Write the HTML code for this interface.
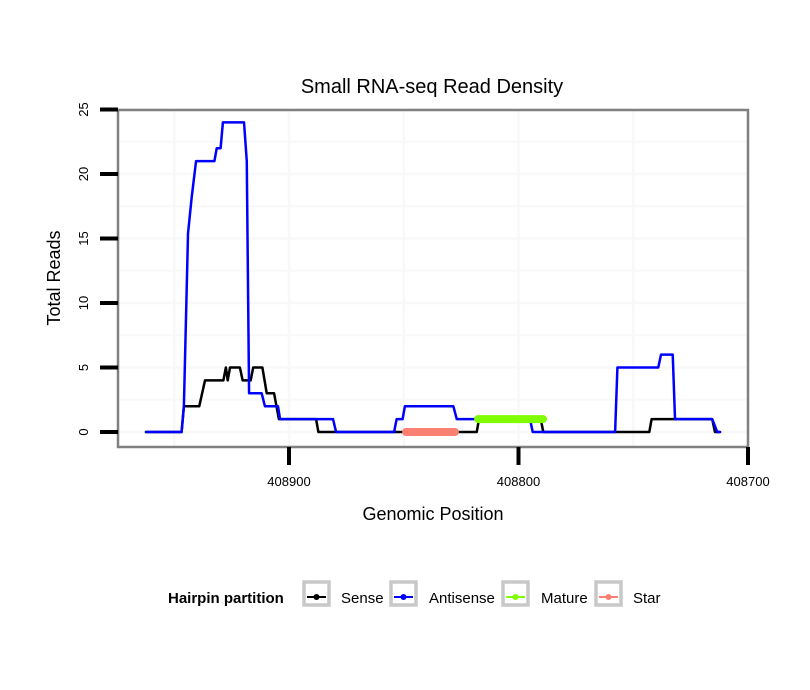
<!DOCTYPE html>
<html><head><meta charset="utf-8"><style>
body{margin:0;background:#fff;}
svg{display:block;font-family:"Liberation Sans",sans-serif;}
</style></head><body>
<svg id="chart" width="810" height="690" viewBox="0 0 810 690">
<rect width="810" height="690" fill="#fff"/>
<text x="432" y="93" font-size="20" text-anchor="middle">Small RNA-seq Read Density</text>
<g id="grid"></g>
<rect x="118" y="110" width="630" height="337" fill="none" stroke="#808080" stroke-width="2.5"/>
<g id="marks"></g>
<g id="axes"></g>
<text x="433" y="520" font-size="18" text-anchor="middle">Genomic Position</text>
<text transform="translate(60,278) rotate(-90)" font-size="18" text-anchor="middle">Total Reads</text>
<g font-size="15">
<text x="168" y="603" font-weight="bold">Hairpin partition</text>
<g><rect x="304" y="582" width="25" height="23" fill="#fff" stroke="#c8c8c8" stroke-width="3.5"/><line x1="307" y1="597" x2="326" y2="597" stroke="#000" stroke-width="2"/><circle cx="316.5" cy="597" r="3" fill="#000"/><text x="341" y="603">Sense</text></g>
<g><rect x="391" y="582" width="25" height="23" fill="#fff" stroke="#c8c8c8" stroke-width="3.5"/><line x1="394" y1="597" x2="413" y2="597" stroke="#0000ff" stroke-width="2"/><circle cx="403.5" cy="597" r="3" fill="#0000ff"/><text x="429" y="603">Antisense</text></g>
<g><rect x="503" y="582" width="25" height="23" fill="#fff" stroke="#c8c8c8" stroke-width="3.5"/><line x1="506" y1="597" x2="525" y2="597" stroke="#7fff00" stroke-width="2"/><circle cx="515.5" cy="597" r="3" fill="#7fff00"/><text x="541" y="603">Mature</text></g>
<g><rect x="596" y="582" width="25" height="23" fill="#fff" stroke="#c8c8c8" stroke-width="3.5"/><line x1="599" y1="597" x2="618" y2="597" stroke="#fa8072" stroke-width="2"/><circle cx="608.5" cy="597" r="3" fill="#fa8072"/><text x="633" y="603">Star</text></g>
</g>
</svg>
<script>
const xTicks=[408900,408800,408700];
const yTicks=[0,5,10,15,20,25];
const antisensePos=[408962.3,408946.8,408945.8,408944.0,408942.4,408940.5,408932.5,408931.5,408929.8,408928.8,408919.6,408918.4,408917.4,408911.9,408910.5,408904.8,408903.9,408880.8,408879.5,408854.2,408853.1,408850.5,408849.5,408828.4,408826.9,408795.0,408793.8,408757.9,408756.9,408739.1,408737.9,408732.8,408731.8,408715.6,408713.4,408712.2];
const antisenseVal=[0,0,2,15.4,18.2,21,21,22,22,24,24,21,3,3,2,2,1,1,0,0,1,1,2,2,1,1,0,0,5,5,6,6,1,1,0,0];
const sensePos=[408962.3,408946.8,408945.8,408939.1,408936.6,408928.6,408927.5,408926.7,408925.7,408921.4,408920.2,408916.7,408915.6,408911.6,408909.7,408906.5,408904.4,408888.2,408887.2,408818.2,408817.2,408790.3,408789.2,408743.0,408742.0,408715.6,408714.4,408712.2];
const senseVal=[0,0,2,2,4,4,5,4,5,5,4,4,5,5,3,3,1,1,0,0,1,1,0,0,1,1,0,0];
const maturePos=[408817.6,408789.3];
const matureVal=[1,1];
const starPos=[408849.0,408827.7];
const starVal=[0,0];

const NS="http://www.w3.org/2000/svg";
const xs=p=>289+(408900-p)*2.295;
const ys=v=>432-v*12.9;
const grid=document.getElementById('grid'),axes=document.getElementById('axes'),marks=document.getElementById('marks');
function mk(tag,attrs,parent){const e=document.createElementNS(NS,tag);for(const k in attrs)e.setAttribute(k,attrs[k]);parent.appendChild(e);return e;}
for(let v=0;v<=25;v+=2.5){const l=mk('line',{x1:118,x2:748,y1:ys(v),y2:ys(v),stroke:'#f8f8f8','stroke-width':v%5?2:2.5},grid);

}
for(let p=408950;p>=408700;p-=50){const x=xs(p);if(x<118||x>748)continue;const l=mk('line',{x1:x,x2:x,y1:110,y2:447,stroke:'#f8f8f8','stroke-width':2.5},grid);

}
yTicks.forEach(v=>{const t=mk('line',{x1:100,x2:118,y1:ys(v),y2:ys(v),stroke:'#000','stroke-width':4},axes);


const tx=mk('text',{transform:`translate(88,${ys(v)}) rotate(-90)`,'font-size':13,'text-anchor':'middle'},axes);tx.textContent=v;

});
xTicks.forEach(p=>{const t=mk('line',{x1:xs(p),x2:xs(p),y1:447,y2:465,stroke:'#000','stroke-width':4},axes);


const tx=mk('text',{x:xs(p),y:486,'font-size':13,'text-anchor':'middle'},axes);tx.textContent=p;

});
function line(pos,val,color,w,name){const pts=pos.map((p,i)=>xs(p)+','+ys(val[i])).join(' ');
const e=mk('polyline',{points:pts,fill:'none',stroke:color,'stroke-width':w,'stroke-linejoin':'round','stroke-linecap':'round'},marks);

}
line(sensePos,senseVal,'#000',2.5,'sense-line');
line(antisensePos,antisenseVal,'#0000ff',2.5,'antisense-line');
line(maturePos,matureVal,'#7fff00',8,'mature-line');
line(starPos,starVal,'#fa8072',8,'star-line');
</script>
</body></html>
